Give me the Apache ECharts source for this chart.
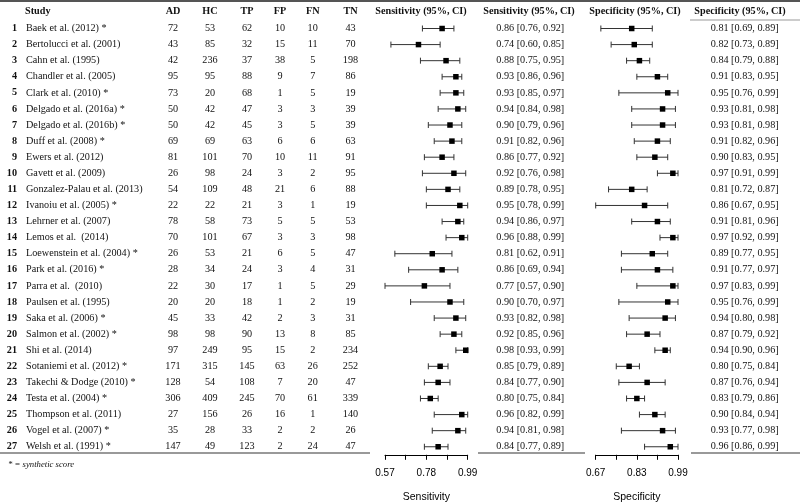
<!DOCTYPE html>
<html><head><meta charset="utf-8">
<script src="https://cdn.jsdelivr.net/npm/echarts@6/dist/echarts.min.js"></script>
<style>html,body{margin:0;padding:0;background:#fff}#c{width:800px;height:504px}</style>
</head><body><div id="c"></div>
<script>
// ---------------- data ----------------
const studies = [
  'Baek et al. (2012) *', 'Bertolucci et al. (2001)', 'Cahn et al. (1995)', 'Chandler et al. (2005)',
  'Clark et al. (2010) *', 'Delgado et al. (2016a) *', 'Delgado et al. (2016b) *', 'Duff et al. (2008) *',
  'Ewers et al. (2012)', 'Gavett et al. (2009)', 'Gonzalez-Palau et al. (2013)', 'Ivanoiu et al. (2005) *',
  'Lehrner et al. (2007)', 'Lemos et al.  (2014)', 'Loewenstein et al. (2004) *', 'Park et al. (2016) *',
  'Parra et al.  (2010)', 'Paulsen et al. (1995)', 'Saka et al. (2006) *', 'Salmon et al. (2002) *',
  'Shi et al. (2014)', 'Sotaniemi et al. (2012) *', 'Takechi & Dodge (2010) *', 'Testa et al. (2004) *',
  'Thompson et al. (2011)', 'Vogel et al. (2007) *', 'Welsh et al. (1991) *'
];
const AD = [72,43,42,95,73,50,50,69,81,26,54,22,78,70,26,28,22,20,45,98,97,171,128,306,27,35,147];
const HC = [53,85,236,95,20,42,42,69,101,98,109,22,58,101,53,34,30,20,33,98,249,315,54,409,156,28,49];
const TP = [62,32,37,88,68,47,45,63,70,24,48,21,73,67,21,24,17,18,42,90,95,145,108,245,26,33,123];
const FP = [10,15,38,9,1,3,3,6,10,3,21,3,5,3,6,3,1,1,2,13,15,63,7,70,16,2,2];
const FN = [10,11,5,7,5,3,5,6,11,2,6,1,5,3,5,4,5,2,3,8,2,26,20,61,1,2,24];
const TN = [43,70,198,86,19,39,39,63,91,95,88,19,53,98,47,31,29,19,31,85,234,252,47,339,140,26,47];

const sens   = [0.86,0.74,0.88,0.93,0.93,0.94,0.90,0.91,0.86,0.92,0.89,0.95,0.94,0.96,0.81,0.86,0.77,0.90,0.93,0.92,0.98,0.85,0.84,0.80,0.96,0.94,0.84];
const sensLo = [0.76,0.60,0.75,0.86,0.85,0.84,0.79,0.82,0.77,0.76,0.78,0.78,0.86,0.88,0.62,0.69,0.57,0.70,0.82,0.85,0.93,0.79,0.77,0.75,0.82,0.81,0.77];
const sensHi = [0.92,0.85,0.95,0.96,0.97,0.98,0.96,0.96,0.92,0.98,0.95,0.99,0.97,0.99,0.91,0.94,0.90,0.97,0.98,0.96,0.99,0.89,0.90,0.84,0.99,0.98,0.89];

const spec   = [0.81,0.82,0.84,0.91,0.95,0.93,0.93,0.91,0.90,0.97,0.81,0.86,0.91,0.97,0.89,0.91,0.97,0.95,0.94,0.87,0.94,0.80,0.87,0.83,0.90,0.93,0.96];
const specLo = [0.69,0.73,0.79,0.83,0.76,0.81,0.81,0.82,0.83,0.91,0.72,0.67,0.81,0.92,0.77,0.77,0.83,0.76,0.80,0.79,0.90,0.75,0.76,0.79,0.84,0.77,0.86];
const specHi = [0.89,0.89,0.88,0.95,0.99,0.98,0.98,0.96,0.95,0.99,0.87,0.95,0.96,0.99,0.95,0.97,0.99,0.99,0.98,0.92,0.96,0.84,0.94,0.86,0.94,0.98,0.99];

const sensTicks = [0.57, 0.675, 0.78, 0.885, 0.99];
const sensTickLabels = [0.57, 0.78, 0.99];
const specTicks = [0.67, 0.75, 0.83, 0.91, 0.99];
const specTickLabels = [0.67, 0.83, 0.99];

const headers = ['Study','AD','HC','TP','FP','FN','TN','Sensitivity (95%, CI)','Sensitivity (95%, CI)','Specificity (95%, CI)','Specificity (95%, CI)'];
const footnote = '* = synthetic score';

// ---------------- layout / style ----------------
const SERIF = '"Liberation Serif", "Times New Roman", Times, serif';
const SANS = '"Liberation Sans", Arial, Helvetica, sans-serif';
const FS = 10.2;
const TXT = '#111';
const GRID_TOP = 20.46, GRID_BOTTOM = 49.2;

const rowNums = studies.map((s, i) => String(i + 1));
const fmtCI = (m, l, h) => m.toFixed(2) + ' [' + l.toFixed(2) + ', ' + h.toFixed(2) + ']';
const sensText = sens.map((v, i) => fmtCI(v, sensLo[i], sensHi[i]));
const specText = spec.map((v, i) => fmtCI(v, specLo[i], specHi[i]));

const columns = [
  { x: 17,    align: 'right',  bold: true, texts: rowNums },
  { x: 26,    align: 'left',   texts: studies },
  { x: 173,   align: 'center', texts: AD.map(String) },
  { x: 210,   align: 'center', texts: HC.map(String) },
  { x: 247,   align: 'center', texts: TP.map(String) },
  { x: 280,   align: 'center', texts: FP.map(String) },
  { x: 312.7, align: 'center', texts: FN.map(String) },
  { x: 350.5, align: 'center', texts: TN.map(String) },
  { x: 530.3, align: 'center', texts: sensText },
  { x: 744.7, align: 'center', texts: specText }
];
const headerPos = [
  { x: 25, align: 'left' }, { x: 173, align: 'center' }, { x: 210, align: 'center' }, { x: 247, align: 'center' },
  { x: 280, align: 'center' }, { x: 312.7, align: 'center' }, { x: 350.5, align: 'center' },
  { x: 421, align: 'center' }, { x: 529, align: 'center' }, { x: 635, align: 'center' }, { x: 740, align: 'center' }
];

const textSeries = columns.map(col => ({
  type: 'custom', xAxisIndex: 0, yAxisIndex: 0, silent: true, clip: false,
  data: col.texts.map((t, i) => [col.x, i]),
  renderItem: (params, api) => {
    const p = api.coord([api.value(0), api.value(1)]);
    return {
      type: 'text', x: p[0], y: p[1],
      style: {
        text: col.texts[params.dataIndex], fill: TXT,
        font: (col.bold ? 'bold ' : '') + FS + 'px ' + SERIF,
        align: col.align, verticalAlign: 'middle'
      }
    };
  }
}));

function whiskerSeries(xi, lo, hi) {
  return {
    type: 'custom', xAxisIndex: xi, yAxisIndex: xi, silent: true, clip: false,
    data: lo.map((l, i) => [l, hi[i], i]),
    encode: { x: [0, 1], y: 2 },
    renderItem: (params, api) => {
      const a = api.coord([api.value(0), api.value(2)]);
      const b = api.coord([api.value(1), api.value(2)]);
      const st = { stroke: '#333', lineWidth: 1 };
      const c = 3;
      return {
        type: 'group', children: [
          { type: 'line', shape: { x1: a[0], y1: a[1], x2: b[0], y2: b[1] }, style: st },
          { type: 'line', shape: { x1: a[0], y1: a[1] - c, x2: a[0], y2: a[1] + c }, style: st },
          { type: 'line', shape: { x1: b[0], y1: b[1] - c, x2: b[0], y2: b[1] + c }, style: st }
        ]
      };
    }
  };
}
function pointSeries(xi, vals) {
  return {
    type: 'scatter', xAxisIndex: xi, yAxisIndex: xi, silent: true,
    symbol: 'rect', symbolSize: 5.5, itemStyle: { color: '#000', opacity: 1 },
    data: vals.map((v, i) => [v, i]), z: 5
  };
}
function forestXAxis(gi, min, max, ticks, labels, name) {
  return {
    gridIndex: gi, type: 'value', min: min, max: max,
    splitLine: { show: false },
    axisLine: { show: true, onZero: false, lineStyle: { color: '#000', width: 1 } },
    axisTick: { show: true, length: 5, customValues: ticks, lineStyle: { color: '#000', width: 1 } },
    axisLabel: { customValues: labels, formatter: v => Number(v).toFixed(2), fontFamily: SANS, fontSize: 10, color: '#000', margin: 13 },
    name: name, nameLocation: 'middle', nameGap: 37,
    nameTextStyle: { fontFamily: SANS, fontSize: 10.5, color: '#000' }
  };
}
const catY = gi => ({ gridIndex: gi, type: 'category', data: rowNums, inverse: true, show: false });

const graphics = headers.map((h, i) => ({
  type: 'text', x: headerPos[i].x, y: 11.7, silent: true,
  style: { text: h, fill: TXT, font: 'bold ' + FS + 'px ' + SERIF, align: headerPos[i].align, verticalAlign: 'middle' }
}));
const hline = (x1, x2, y, w, col) => ({ type: 'line', silent: true, shape: { x1, y1: y, x2, y2: y }, style: { stroke: col, lineWidth: w } });
graphics.push(hline(0, 800, 1, 2, '#555'));
graphics.push(hline(690, 800, 20, 1, '#999'));
graphics.push(hline(0, 370, 453, 1.6, '#777'));
graphics.push(hline(478, 585, 453, 1.6, '#777'));
graphics.push(hline(691, 800, 453, 1.6, '#777'));
graphics.push({
  type: 'text', x: 8, y: 464.3, silent: true,
  style: { text: footnote, fill: TXT, font: 'italic 8.7px ' + SERIF, align: 'left', verticalAlign: 'middle' }
});

const chart = echarts.init(document.getElementById('c'), null, { renderer: 'canvas' });
chart.setOption({
  animation: false,
  backgroundColor: '#fff',
  grid: [
    { left: 0, right: 0, top: GRID_TOP, bottom: GRID_BOTTOM, outerBoundsMode: 'none' },
    { left: 385, right: 332.3, top: GRID_TOP, bottom: GRID_BOTTOM, outerBoundsMode: 'none' },
    { left: 595.7, right: 122, top: GRID_TOP, bottom: GRID_BOTTOM, outerBoundsMode: 'none' }
  ],
  xAxis: [
    { gridIndex: 0, type: 'value', min: 0, max: 800, show: false },
    forestXAxis(1, sensTicks[0], sensTicks[sensTicks.length - 1], sensTicks, sensTickLabels, 'Sensitivity'),
    forestXAxis(2, specTicks[0], specTicks[specTicks.length - 1], specTicks, specTickLabels, 'Specificity')
  ],
  yAxis: [catY(0), catY(1), catY(2)],
  series: [
    ...textSeries,
    whiskerSeries(1, sensLo, sensHi), pointSeries(1, sens),
    whiskerSeries(2, specLo, specHi), pointSeries(2, spec)
  ],
  graphic: graphics
});
</script></body></html>
